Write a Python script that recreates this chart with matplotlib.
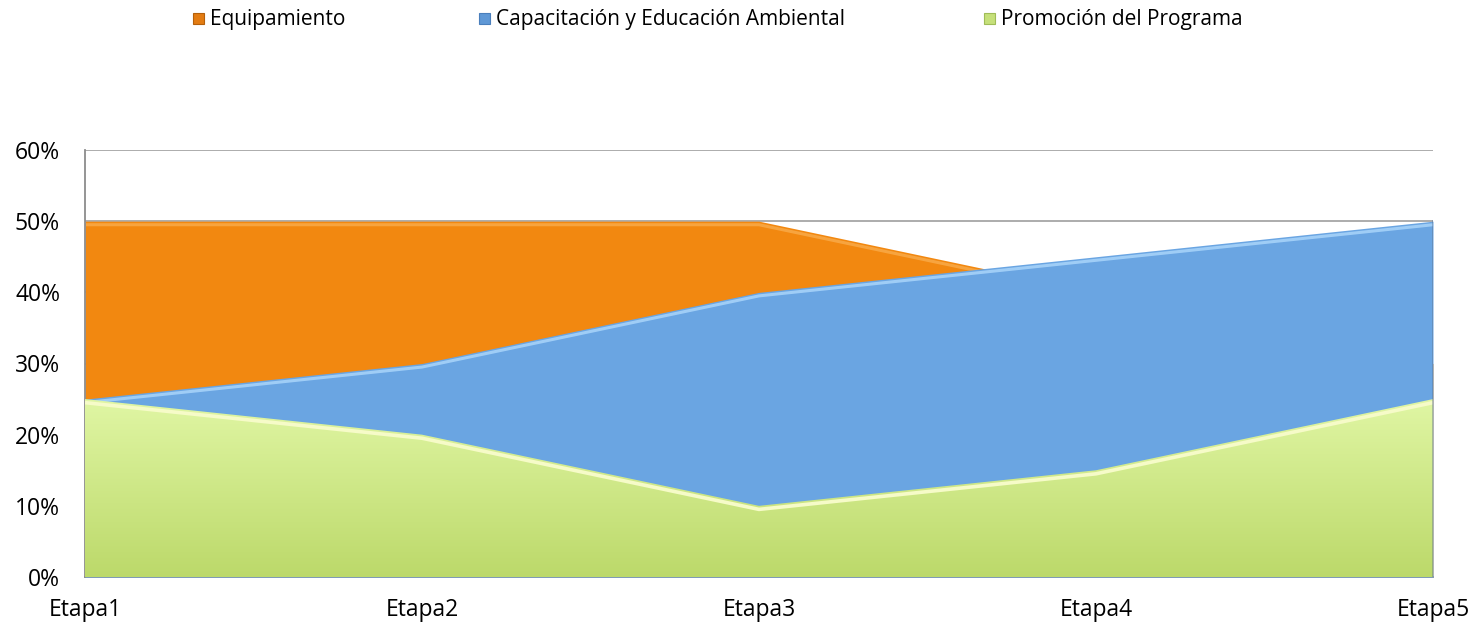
import matplotlib
matplotlib.use("Agg")
import matplotlib.pyplot as plt
import numpy as np
from matplotlib.patches import Polygon, Rectangle

plt.rcParams['font.family'] = ['Open Sans', 'DejaVu Sans']

categories = ["Etapa1", "Etapa2", "Etapa3", "Etapa4", "Etapa5"]
equipamiento = [0.50, 0.50, 0.50, 0.40, 0.30]
capacitacion = [0.25, 0.30, 0.40, 0.45, 0.50]
promocion = [0.25, 0.20, 0.10, 0.15, 0.25]
series_names = ["Equipamiento", "Capacitación y Educación Ambiental", "Promoción del Programa"]
yticks = [0, 0.1, 0.2, 0.3, 0.4, 0.5, 0.6]

W, H = 1482, 624
fig = plt.figure(figsize=(W/100, H/100), dpi=100)
ax = fig.add_axes([85/W, 1-577/H, (1433-85)/W, (577-150)/H])
x = np.arange(len(categories))

ax.set_xlim(0, 4)
ax.set_ylim(0, 0.6)
ax.set_yticks(yticks)
ax.set_yticklabels([f"{int(round(v*100))}%" for v in yticks])
ax.set_xticks(x)
ax.set_xticklabels(categories)
ax.tick_params(length=0, labelsize=16.5, colors='black')
ax.tick_params(axis='y', pad=18)
ax.tick_params(axis='x', pad=15)
ax.grid(axis='y', color='#a6a6a6', lw=1.3, zorder=0)
ax.set_axisbelow(True)
for s in ['top', 'right']:
    ax.spines[s].set_visible(False)
for s in ['left', 'bottom']:
    ax.spines[s].set_color('#8c8c8c')
    ax.spines[s].set_linewidth(1.3)

def grad_fill(vals, top_c, bot_c, z):
    poly = Polygon(list(zip(x, vals)) + [(4, 0), (0, 0)], closed=True,
                   facecolor='none', edgecolor='none')
    ax.add_patch(poly)
    n = 256
    t = np.linspace(0, 1, n)[:, None]
    top = np.array(matplotlib.colors.to_rgb(top_c))
    bot = np.array(matplotlib.colors.to_rgb(bot_c))
    img = (t[..., None] * top + (1 - t[..., None]) * bot)
    img = np.repeat(img, 2, axis=1)
    im = ax.imshow(img, extent=[0, 4, 0, max(vals)], origin='lower',
                   aspect='auto', zorder=z)
    im.set_clip_path(poly)

# Equipamiento
ax.fill_between(x, 0, equipamiento, color='#F28810', zorder=2, lw=0)
ax.plot(x, np.array(equipamiento) - 0.005, color='#F8A845', lw=2.2, zorder=2.1,
        solid_capstyle='butt', alpha=0.9)
# Capacitacion
ax.fill_between(x, 0, capacitacion, color='#6AA5E2', zorder=3, lw=0)
ax.plot(x, np.array(capacitacion) - 0.005, color='#A3D0F8', lw=2.2, zorder=3.1,
        solid_capstyle='butt', alpha=0.95)
# Promocion
grad_fill(promocion, '#E0F6A4', '#BCD96A', 4)
ax.plot(x, np.array(promocion) - 0.005, color='#F6FBC8', lw=2.6, zorder=4.1,
        solid_capstyle='butt')
# right-edge bevel shading
ax.plot([4, 4], [0, max(capacitacion)], color='#5a6f8a', lw=1.2, alpha=0.5, zorder=5)

# Legend (manual, in figure pixel coords)
leg_colors = [('#E37C12', '#B5600A'), ('#5F98D6', '#4A7FBC'), ('#C6E07A', '#A0BC58')]
leg_x = [193, 479, 984]
for (fc, ec), lx, name in zip(leg_colors, leg_x, series_names):
    fig.add_artist(Rectangle((lx/W, 1-24/H), 11/W, 11/H, transform=fig.transFigure,
                             facecolor=fc, edgecolor=ec, lw=0.8))
    fig.text((lx+17)/W, 1-19/H, name, fontsize=15, va='center', ha='left')

fig.savefig("out.png", dpi=100)
